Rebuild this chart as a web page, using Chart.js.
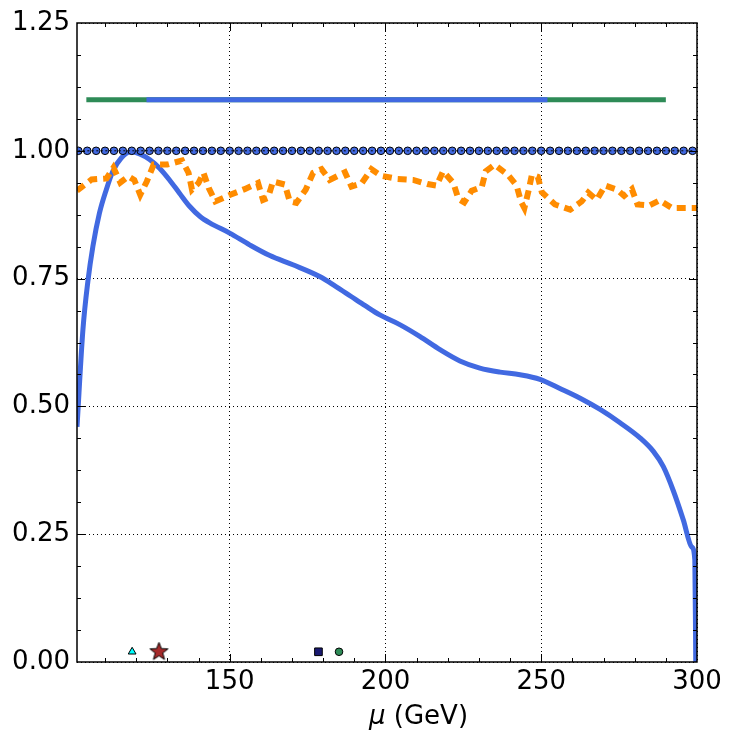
<!DOCTYPE html>
<html>
<head>
<meta charset="utf-8">
<script src="https://cdn.jsdelivr.net/npm/chart.js@4/dist/chart.umd.min.js"></script>
<style>
  html, body { margin: 0; padding: 0; background: #ffffff; }
  canvas { display: block; }
</style>
</head>
<body>
<canvas id="c" width="734" height="742"></canvas>
<script>
// ---------------- data ----------------
const xTicks = [150, 200, 250, 300];
const yTicks = [0, 0.25, 0.5, 0.75, 1.0, 1.25];

// blue solid curve
const curveX = [101, 102.9, 104.5, 106.1, 108.2, 110.4, 112.5, 115.2, 118.4, 121.1, 124.3, 127.5, 130.7, 133.9, 137.2, 140.4, 143.6, 150, 156.4, 162.9, 170.3, 178.9, 184, 189, 193.5, 198.2, 204.6, 211, 217.5, 223.9, 230.3, 236.8, 243.2, 249.6, 256, 262.5, 268.9, 275.3, 281.8, 286, 289.2, 292.4, 295.6, 298.3, 299.3, 299.6];
const curveY = [0.46, 0.650, 0.745, 0.813, 0.878, 0.924, 0.960, 0.986, 0.998, 0.994, 0.983, 0.966, 0.943, 0.917, 0.891, 0.872, 0.859, 0.839, 0.816, 0.795, 0.777, 0.754, 0.735, 0.715, 0.697, 0.679, 0.660, 0.637, 0.611, 0.589, 0.575, 0.567, 0.562, 0.553, 0.535, 0.516, 0.494, 0.468, 0.438, 0.412, 0.382, 0.335, 0.278, 0.225, 0.200, 0.0];

// orange dashed curve
const orangeX = [101, 105.7, 110.5, 112.7, 114.9, 117.5, 119.4, 121.3, 123.4, 125.6, 129.9, 134.7, 136.8, 137.9, 140, 141.6, 143.3, 145.4, 150.2, 154.8, 159.1, 160.7, 162.3, 163.9, 167.7, 169.3, 171.4, 174.4, 176.8, 179.5, 182.1, 187, 189.1, 192.3, 195.5, 198.7, 203.9, 208.9, 213.5, 216.4, 218.5, 221.8, 223.4, 225.3, 227.7, 230.9, 232.2, 235, 239.3, 242.1, 243.5, 244.6, 245.9, 247, 248.9, 250.2, 254.4, 259.3, 263, 265.1, 267.8, 270.5, 274.3, 276.6, 279.1, 280.9, 284.7, 288, 292, 297.3, 300];
const orangeY = [0.922, 0.944, 0.946, 0.967, 0.938, 0.950, 0.943, 0.914, 0.940, 0.973, 0.973, 0.981, 0.957, 0.924, 0.937, 0.957, 0.927, 0.901, 0.914, 0.925, 0.937, 0.904, 0.908, 0.940, 0.934, 0.901, 0.898, 0.924, 0.957, 0.964, 0.943, 0.958, 0.930, 0.936, 0.964, 0.951, 0.945, 0.943, 0.935, 0.932, 0.960, 0.937, 0.906, 0.899, 0.922, 0.929, 0.960, 0.973, 0.953, 0.932, 0.901, 0.888, 0.921, 0.953, 0.949, 0.919, 0.895, 0.885, 0.901, 0.918, 0.904, 0.932, 0.924, 0.912, 0.925, 0.895, 0.893, 0.903, 0.888, 0.888, 0.888];

// dotted reference line with markers at 1.0
const refX = [101.43, 104.29, 107.14, 110.00, 112.86, 115.71, 118.57, 121.43, 124.29, 127.14, 130.00, 132.86, 135.71, 138.57, 141.43, 144.29, 147.14, 150.00, 152.86, 155.71, 158.57, 161.43, 164.29, 167.14, 170.00, 172.86, 175.71, 178.57, 181.43, 184.29, 187.14, 190.00, 192.86, 195.71, 198.57, 201.43, 204.29, 207.14, 210.00, 212.86, 215.71, 218.57, 221.43, 224.29, 227.14, 230.00, 232.86, 235.71, 238.57, 241.43, 244.29, 247.14, 250.00, 252.86, 255.71, 258.57, 261.43, 264.29, 267.14, 270.00, 272.86, 275.71, 278.57, 281.43, 284.29, 287.14, 290.00, 292.86, 295.71, 298.57];
const refY = refX.map(() => 1.0);

// horizontal bands at 1.10
const greenBandX = [104, 290];
const blueBandX = [123.3, 252];
const bandY = 1.10;

// markers near the bottom
const triX = [118.7], triY = [0.02];
const starX = [127.3], starY = [0.02];
const squareX = [178.5], squareY = [0.02];
const circleX = [185.1], circleY = [0.02];

const zip = (xs, ys) => xs.map((x, i) => ({ x: x, y: Array.isArray(ys) ? ys[i] : ys }));

// 5-point star image for pointStyle
function makeStar(r, fill, stroke) {
  const size = Math.ceil(r * 2 + 4);
  const cv = document.createElement('canvas');
  cv.width = size; cv.height = size;
  const g = cv.getContext('2d');
  const cx = size / 2, cy = size / 2, ri = r * 0.42;
  g.beginPath();
  for (let i = 0; i < 10; i++) {
    const rr = i % 2 === 0 ? r : ri;
    const a = -Math.PI / 2 + i * Math.PI / 5;
    const px = cx + rr * Math.cos(a), py = cy + rr * Math.sin(a);
    if (i === 0) g.moveTo(px, py); else g.lineTo(px, py);
  }
  g.closePath();
  g.fillStyle = fill; g.fill();
  g.lineWidth = 1; g.strokeStyle = stroke; g.stroke();
  return cv;
}
const starImg = makeStar(9.5, '#a52a2a', '#000000');

const FONT = 'DejaVu Sans';

const framePlugin = {
  id: 'frame',
  afterDatasetsDraw(chart) {
    const { ctx, chartArea: a, scales } = chart;
    const xs = scales.x, ys = scales.y;
    ctx.save();
    ctx.strokeStyle = '#000';
    ctx.lineWidth = 1;
    const major = 8, minor = 4;
    const tickX = (v, len) => {
      const p = Math.round(xs.getPixelForValue(v)) + 0.5;
      ctx.beginPath();
      ctx.moveTo(p, a.bottom); ctx.lineTo(p, a.bottom - len);
      ctx.moveTo(p, a.top); ctx.lineTo(p, a.top + len);
      ctx.stroke();
    };
    const tickY = (v, len) => {
      const p = Math.round(ys.getPixelForValue(v)) + 0.5;
      ctx.beginPath();
      ctx.moveTo(a.left, p); ctx.lineTo(a.left + len, p);
      ctx.moveTo(a.right, p); ctx.lineTo(a.right - len, p);
      ctx.stroke();
    };
    for (let v = 110; v < 300; v += 10) tickX(v, (v % 50 === 0) ? major : minor);
    for (let k = 1; k < 20; k++) { const v = k * 0.0625; tickY(v, (k % 4 === 0) ? major : minor); }
    ctx.lineWidth = 1.5;
    ctx.strokeRect(a.left, a.top, a.right - a.left, a.bottom - a.top);
    ctx.restore();
  },
  afterDraw(chart) {
    const { ctx, chartArea: a } = chart;
    ctx.save();
    ctx.fillStyle = '#000';
    ctx.textBaseline = 'alphabetic';
    const italic = 'italic 26px "' + FONT + '"';
    const normal = '26px "' + FONT + '"';
    ctx.font = italic; const w1 = ctx.measureText('μ').width;
    const x0 = a.left + 292;
    const yb = 724;
    ctx.font = italic; ctx.fillText('μ', x0, yb);
    ctx.font = normal; ctx.fillText(' (GeV)', x0 + w1, yb);
    ctx.restore();
  }
};

new Chart(document.getElementById('c'), {
  type: 'scatter',
  data: {
    datasets: [
      { data: zip(curveX, curveY), showLine: true, borderColor: '#4169e1', borderWidth: 5, pointRadius: 0, cubicInterpolationMode: 'monotone', clip: 0, order: 5 },
      { data: zip(orangeX, orangeY), showLine: true, borderColor: '#ff8c00', borderWidth: 6, borderDash: [9, 6], pointRadius: 0, tension: 0, clip: 0, order: 4 },
      { data: zip(refX, refY), showLine: false, pointRadius: 3.8, pointBackgroundColor: '#4169e1', pointBorderColor: '#000', pointBorderWidth: 1, clip: 0, order: 3 },
      { data: zip(refX, refY), showLine: true, borderColor: '#000', borderWidth: 1, borderDash: [2, 2.5], pointRadius: 0, clip: 0, order: 2 },
      { data: zip(greenBandX, [bandY, bandY]), showLine: true, borderColor: '#2e8b57', borderWidth: 5, pointRadius: 0, clip: 0, order: 1 },
      { data: zip(blueBandX, [bandY, bandY]), showLine: true, borderColor: '#4169e1', borderWidth: 5, pointRadius: 0, clip: 0, order: 0 },
      { data: zip(triX, triY), pointStyle: 'triangle', pointRadius: 4.5, pointBackgroundColor: '#00ffff', pointBorderColor: '#000', pointBorderWidth: 1, clip: false },
      { data: zip(starX, starY), pointStyle: starImg, pointRadius: 9.5, clip: false },
      { data: zip(squareX, squareY), pointStyle: 'rect', pointRadius: 5.4, pointBackgroundColor: '#191970', pointBorderColor: '#000', pointBorderWidth: 1, clip: false },
      { data: zip(circleX, circleY), pointStyle: 'circle', pointRadius: 3.8, pointBackgroundColor: '#2e8b57', pointBorderColor: '#000', pointBorderWidth: 1, clip: false }
    ]
  },
  options: {
    responsive: false,
    animation: false,
    devicePixelRatio: 1,
    layout: { padding: { left: 0, right: 37, top: 23, bottom: 0 } },
    plugins: { legend: { display: false }, tooltip: { enabled: false } },
    elements: { line: { borderCapStyle: 'butt' } },
    scales: {
      x: {
        type: 'linear', min: 101, max: 300,
        afterBuildTicks: (s) => { s.ticks = xTicks.map(v => ({ value: v })); },
        afterFit: (s) => { s.height = 80; },
        ticks: { color: '#000', font: { family: FONT, size: 26 }, padding: 5, maxRotation: 0, autoSkip: false },
        grid: { color: '#000', lineWidth: 1, drawTicks: false },
        border: { display: false, dash: [1, 3] }
      },
      y: {
        type: 'linear', min: 0, max: 1.25,
        afterBuildTicks: (s) => { s.ticks = yTicks.map(v => ({ value: v })); },
        afterFit: (s) => { s.width = 77; },
        ticks: { color: '#000', font: { family: FONT, size: 26 }, padding: 7, callback: (v) => Number(v).toFixed(2) },
        grid: { color: '#000', lineWidth: 1, drawTicks: false },
        border: { display: false, dash: [1, 3] }
      }
    }
  },
  plugins: [framePlugin]
});
</script>
</body>
</html>
